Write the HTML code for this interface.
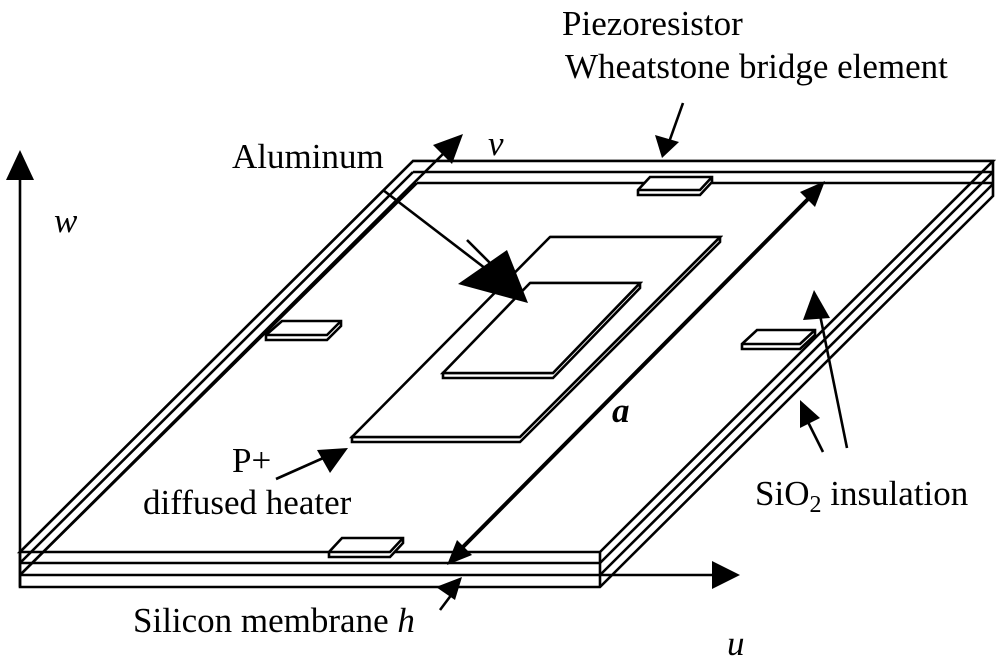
<!DOCTYPE html>
<html><head><meta charset="utf-8"><style>
html,body{margin:0;padding:0;background:#fff;}
svg{display:block;}
text{font-family:"Liberation Serif",serif;font-size:35px;fill:#000;}
</style></head><body>
<svg width="1000" height="661" viewBox="0 0 1000 661" xmlns="http://www.w3.org/2000/svg">
<g fill="#fff" stroke="#000" stroke-width="2.6" stroke-linejoin="miter">
<polygon points="20,587 600,587 993,196 993,161 413,161 20,552"/>
<polyline points="600,587 600,552" fill="none"/>
<polyline points="20,575 600,575 993,184" fill="none"/>
<polyline points="20,563 600,563 993,172" fill="none"/>
<polygon points="20,552 600,552 993,161 413,161"/>
<line x1="20" y1="563" x2="413" y2="172"/>
<line x1="413" y1="172" x2="993" y2="172"/>
<line x1="417" y1="183" x2="993" y2="183"/>
<line x1="20" y1="575" x2="417" y2="183"/>
<polygon points="550,237 720,237 720,242 520,442 352,442 352,437 520,437 720,237"/>
<polygon points="550,237 720,237 520,437 352,437"/>
<polygon points="530,283 640,283 640,288 553,378 443,378 443,373 553,373 640,283"/>
<polygon points="530,283 640,283 553,373 443,373"/>
<polygon points="650,177 712,177 712,182 700,195 638,195 638,190"/>
<polyline points="638,190 700,190 712,177" fill="none"/>
<polygon points="282,321 341,321 341,326 327,340 266,340 266,335"/>
<polyline points="266,335 327,335 341,321" fill="none"/>
<polygon points="757,330 815,330 815,335 800,349 742,349 742,344"/>
<polyline points="742,344 800,344 815,330" fill="none"/>
<polygon points="342,538 403,538 403,543 390,557 329,557 329,552"/>
<polyline points="329,552 390,552 403,538" fill="none"/>
</g>
<g stroke="#000" stroke-width="2.6" fill="none">
<line x1="20" y1="170" x2="20" y2="587"/>
<line x1="600" y1="575" x2="715" y2="575"/>
<line x1="20" y1="575" x2="450" y2="147"/>
<line x1="383" y1="190" x2="490" y2="272"/>
<line x1="467" y1="240" x2="490" y2="263"/>
<line x1="276" y1="479" x2="330" y2="455"/>
<line x1="683" y1="103" x2="668" y2="145"/>
<line x1="847" y1="448" x2="818" y2="305"/>
<line x1="823" y1="452" x2="806" y2="418"/>
<line x1="440" y1="610" x2="455" y2="590"/>
<line x1="455" y1="555" x2="815" y2="192" stroke-width="4"/>
</g>
<g fill="#000">
<polygon points="20,150 6,180 34,180"/>
<polygon points="740,575 712,561 712,589"/>
<polygon points="463,134 433,145 452,164"/>
<polygon points="458,284 507,250 528,303"/>
<polygon points="348,448 317,450 330,473"/>
<polygon points="662,158 655,135 679,142"/>
<polygon points="814,290 803,320 830,318"/>
<polygon points="800,400 800,428 820,418"/>
<polygon points="462,577 436,587 455,600"/>
<polygon points="447,565 457,540 472,555"/>
<polygon points="825,181 800,192 815,207"/>
</g>
<text x="232" y="168">Aluminum</text>
<text x="488" y="155" font-style="italic">v</text>
<text x="54" y="232" font-style="italic">w</text>
<text x="562" y="35">Piezoresistor</text>
<text x="565" y="78">Wheatstone bridge element</text>
<text x="612" y="422" font-style="italic" font-weight="bold">a</text>
<text x="232" y="472">P+</text>
<text x="143" y="514">diffused heater</text>
<text x="755" y="505">SiO<tspan font-size="24" dy="7">2</tspan><tspan dy="-7"> insulation</tspan></text>
<text x="133" y="632">Silicon membrane <tspan font-style="italic">h</tspan></text>
<text x="727" y="655" font-style="italic">u</text>
</svg>
</body></html>
